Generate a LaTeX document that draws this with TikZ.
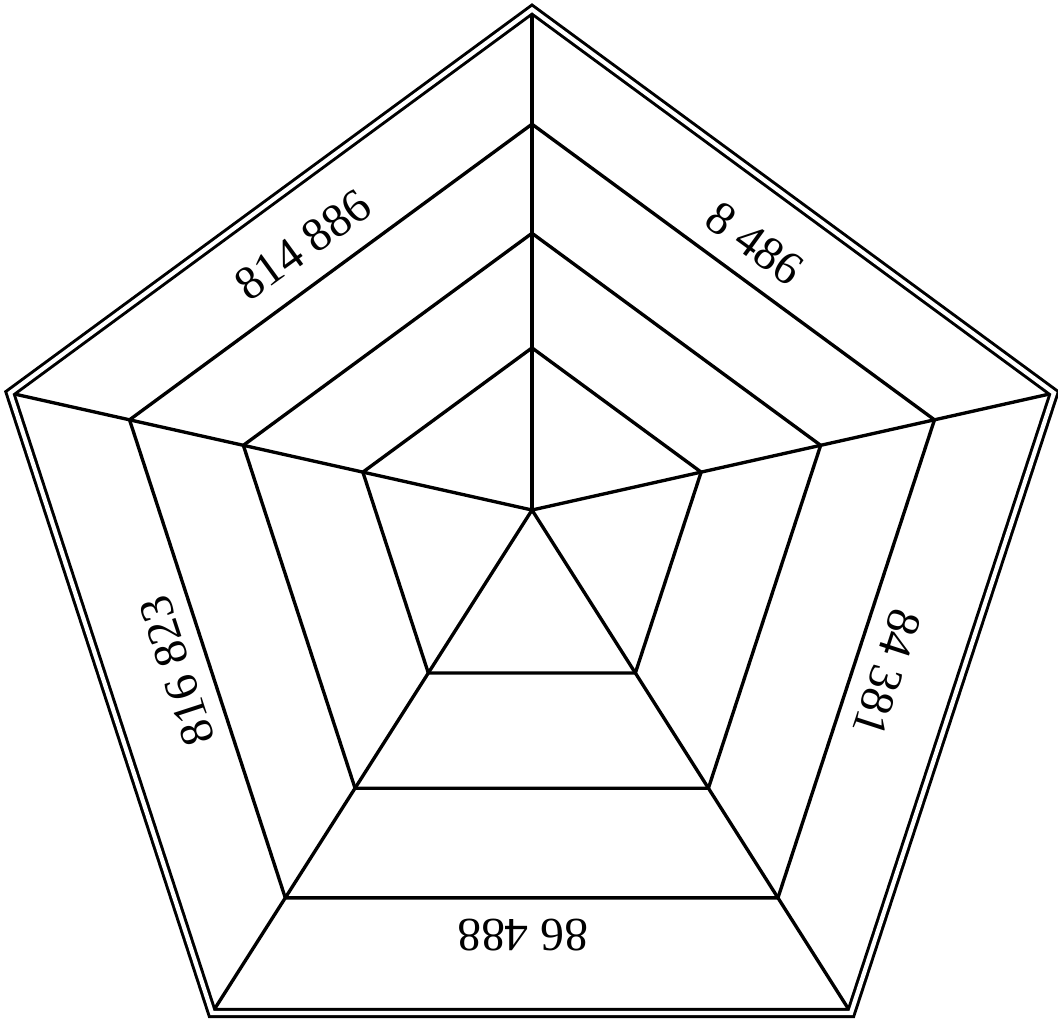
\documentclass[tikz,border=0pt]{standalone}
\usepackage{fontspec}
\setmainfont{Liberation Serif}
\usetikzlibrary{calc}

\begin{document}
\begin{tikzpicture}[x=0.01cm, y=-0.01cm,
  web/.style={line width=0.95pt},
  rim/.style={line width=0.85pt, double, double distance=1.2pt},
  lbl/.style={font=\fontsize{13.5}{16}\selectfont, inner sep=0pt}]
  \useasboundingbox (0,0) rectangle (1058,1020);
  \coordinate (P) at (532,510);
  \coordinate (v1) at (532,9.5);
  \coordinate (v2) at (10,393);
  \coordinate (v3) at (212,1013);
  \coordinate (v4) at (851,1013);
  \coordinate (v5) at (1054,393);
  % spokes
  \foreach \i in {1,...,5}
    \draw[web] (P) -- (v\i);
  % inner pentagons
  \foreach \s in {0.771,0.553,0.324}
    \draw[web] ($(P)!\s!(v1)$) -- ($(P)!\s!(v2)$) -- ($(P)!\s!(v3)$)
      -- ($(P)!\s!(v4)$) -- ($(P)!\s!(v5)$) -- cycle;
  % outer rim
  \draw[rim] (v1) -- (v2) -- (v3) -- (v4) -- (v5) -- cycle;
  % labels
  \node[lbl, rotate=36] (ul) at (303,245) {814 886};
  \node[lbl, rotate=-36] (ur) at (755,243) {8 486};
  \node[lbl, rotate=-108] (rt) at (887,673) {84 381};
  \node[lbl, rotate=180] (bt) at (523,935) {86 488};
  \node[lbl, rotate=108] (lt) at (177,671) {816 823};
\end{tikzpicture}
\end{document}
